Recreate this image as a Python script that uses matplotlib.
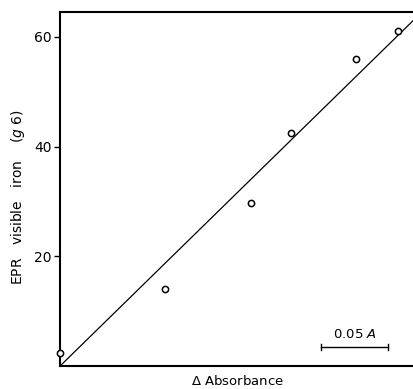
import numpy as np
import matplotlib
matplotlib.use("Agg")
import matplotlib.pyplot as plt

# data (x in absorbance units, y in EPR visible iron)
absorbance = [0.0, 0.0784, 0.1425, 0.172, 0.221, 0.252]
epr_iron = [2.4, 14.0, 29.8, 42.5, 56.0, 61.0]

# fitted line endpoints
fit_x = [0.0, 0.264]
fit_y = [0.0, 63.1]

# scale bar (0.05 A)
bar_x = [0.1948, 0.2448]
bar_y = 3.45

y_ticks = [20, 40, 60]

fig = plt.figure(figsize=(4.14, 3.89), dpi=100)
ax = fig.add_axes([0.145, 0.059, 0.855, 0.910])

ax.plot(fit_x, fit_y, color="black", lw=0.9, clip_on=False)
ax.plot(absorbance, epr_iron, "o", ms=4.5, mfc="white", mec="black", mew=1.1,
        clip_on=False, zorder=3)

# scale bar
ax.plot(bar_x, [bar_y, bar_y], color="black", lw=1.0)
ax.plot([bar_x[0], bar_x[0]], [bar_y - 0.5, bar_y + 0.5], color="black", lw=1.0)
ax.plot([bar_x[1], bar_x[1]], [bar_y - 0.5, bar_y + 0.5], color="black", lw=1.0)
ax.text(np.mean(bar_x), bar_y + 1.1, r"0.05 $\mathit{A}$", ha="center", va="bottom",
        fontsize=9.5)

ax.set_xlim(0, 0.264)
ax.set_ylim(0, 64.5)
ax.set_xticks([])
ax.set_yticks(y_ticks)
ax.tick_params(axis="y", direction="out", length=4, width=1, labelsize=10, pad=2)

ax.spines["right"].set_visible(False)
for s in ["left", "bottom", "top"]:
    ax.spines[s].set_linewidth(1.5)

ax.set_ylabel(r"EPR   visible   iron    ($\mathit{g}$ 6)", fontsize=10,
              va="center")
ax.yaxis.set_label_coords(-0.119, 0.477)
ax.set_xlabel(r"$\Delta$ Absorbance", fontsize=9.5, labelpad=6)

fig.savefig("out.png", dpi=100)
